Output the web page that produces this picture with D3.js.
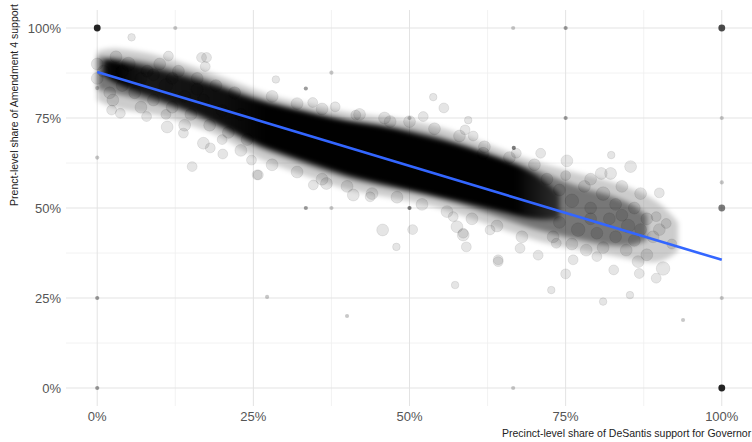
<!DOCTYPE html>
<html>
<head>
<meta charset="utf-8">
<script src="https://cdn.jsdelivr.net/npm/d3@7"></script>
<style>
  body { margin: 0; background: #fff; }
  svg { display: block; font-family: "Liberation Sans", Arial, sans-serif; }
  .grid-major { stroke: #e3e3e3; stroke-width: 1; }
  .grid-minor { stroke: #efefef; stroke-width: 0.8; }
  .tick-label { fill: #555; font-size: 13px; }
  .axis-title { fill: #222; font-size: 10.5px; }
</style>
</head>
<body>
<div id="chart"></div>
<script>
// Оси и подписи
const xTicks = [0, 0.25, 0.5, 0.75, 1];
const yTicks = [0, 0.25, 0.5, 0.75, 1];
const minorTicks = [0.125, 0.375, 0.625, 0.875];
const xTitle = "Precinct-level share of DeSantis support for Governor";
const yTitle = "Prenct-level share of Amendment 4 support";

// Плотное ядро облака точек (границы)
const bandX     = [0.00, 0.02, 0.05, 0.10, 0.15, 0.20, 0.25, 0.30, 0.35, 0.40, 0.45, 0.50, 0.55, 0.60, 0.65, 0.70, 0.75, 0.80, 0.85, 0.90, 0.93];
const outerLo   = [0.80, 0.78, 0.77, 0.76, 0.73, 0.70, 0.64, 0.61, 0.58, 0.55, 0.535, 0.52, 0.50, 0.47, 0.44, 0.41, 0.39, 0.375, 0.36, 0.34, 0.38];
const outerHi   = [0.935, 0.945, 0.94, 0.925, 0.895, 0.865, 0.83, 0.80, 0.785, 0.765, 0.755, 0.745, 0.725, 0.695, 0.66, 0.63, 0.605, 0.585, 0.56, 0.52, 0.46];
const midX      = [0.00, 0.05, 0.10, 0.15, 0.20, 0.25, 0.30, 0.35, 0.40, 0.45, 0.50, 0.55, 0.60, 0.65, 0.70, 0.75, 0.80, 0.85, 0.88];
const midLo     = [0.83, 0.81, 0.79, 0.76, 0.72, 0.67, 0.64, 0.61, 0.58, 0.56, 0.545, 0.525, 0.50, 0.47, 0.44, 0.42, 0.40, 0.39, 0.41];
const midHi     = [0.92, 0.915, 0.90, 0.875, 0.845, 0.81, 0.785, 0.765, 0.745, 0.735, 0.72, 0.70, 0.67, 0.64, 0.61, 0.57, 0.545, 0.52, 0.48];
const coreX     = [0.01, 0.02, 0.05, 0.10, 0.15, 0.20, 0.25, 0.30, 0.35, 0.40, 0.45, 0.50, 0.55, 0.60, 0.65, 0.70, 0.74];
const coreLo    = [0.87, 0.855, 0.83, 0.80, 0.77, 0.73, 0.68, 0.65, 0.62, 0.59, 0.57, 0.55, 0.53, 0.51, 0.49, 0.465, 0.47];
const coreHi    = [0.91, 0.915, 0.90, 0.885, 0.86, 0.835, 0.80, 0.78, 0.76, 0.74, 0.73, 0.71, 0.69, 0.665, 0.635, 0.60, 0.54];

// Отдельные участки: [доля DeSantis, доля Amendment 4, размер, сколько совпадает]
const stacked = [
    [0, 1, 2, 8], [1, 1, 2, 5], [1, 0, 2, 8], [0, 0, 1, 2], [0, 0.25, 1, 2],
    [1, 0.5, 2, 3], [1, 0.75, 1, 1], [1, 0.571, 1, 1], [1, 0.25, 1, 1],
    [0.75, 1, 1, 2], [0.75, 0.75, 1, 2], [0.666, 1, 1, 1], [0.666, 0, 1, 1],
    [0.125, 1, 1, 1], [0, 0.833, 1, 1], [0, 0.64, 1, 1], [0.334, 0.5, 1, 2],
    [0.375, 0.5, 1, 1], [0.5, 0.5, 1, 3], [0.334, 0.832, 1, 2], [0.375, 0.876, 1, 1],
    [0.667, 0.667, 1, 3], [0.5, 0.75, 1, 1], [0.272, 0.253, 1, 1], [0.4, 0.2, 1, 1],
    [0.938, 0.189, 1, 1]
];

const precincts = [
    [0.055, 0.974, 2], [0.114, 0.922, 3], [0.167, 0.918, 3], [0.175, 0.918, 3], [0.173, 0.893, 3],
    [0.025, 0.8, 4], [0.023, 0.772, 3], [0.037, 0.763, 3], [0.079, 0.754, 3], [0.112, 0.725, 4],
    [0.138, 0.708, 3], [0.152, 0.615, 3], [0.17, 0.68, 4], [0.181, 0.667, 3], [0.201, 0.65, 3],
    [0.247, 0.633, 3], [0.258, 0.592, 3], [0.286, 0.857, 2], [0.345, 0.793, 3], [0.381, 0.781, 3],
    [0.414, 0.758, 3], [0.538, 0.808, 2], [0.555, 0.778, 3], [0.469, 0.74, 4], [0.522, 0.754, 3],
    [0.589, 0.717, 3], [0.457, 0.439, 4], [0.505, 0.44, 3], [0.479, 0.392, 2], [0.256, 0.592, 3],
    [0.346, 0.564, 3], [0.367, 0.568, 4], [0.41, 0.536, 4], [0.437, 0.531, 3], [0.576, 0.448, 4],
    [0.586, 0.43, 3], [0.57, 0.476, 3], [0.573, 0.286, 2], [0.642, 0.356, 3], [0.71, 0.652, 3],
    [0.752, 0.631, 4], [0.823, 0.647, 2], [0.807, 0.596, 4], [0.822, 0.596, 4], [0.854, 0.615, 4],
    [0.9, 0.542, 3], [0.911, 0.457, 3], [0.895, 0.476, 3], [0.906, 0.332, 5], [0.895, 0.305, 3],
    [0.868, 0.318, 3], [0.866, 0.351, 4], [0.827, 0.328, 3], [0.853, 0.258, 2], [0.81, 0.24, 2],
    [0.75, 0.317, 3], [0.727, 0.272, 2], [0.706, 0.369, 3], [0.677, 0.388, 3], [0.642, 0.351, 3],
    [0.591, 0.392, 3], [0.586, 0.425, 4], [0.629, 0.439, 3], [0.735, 0.402, 3], [0.762, 0.356, 3],
    [0.783, 0.383, 4], [0.8, 0.365, 3], [0.847, 0.383, 4], [0.594, 0.744, 2], [0.602, 0.7, 3],
    [0.618, 0.652, 4], [0.671, 0.652, 3],
    [0.72, 0.58, 4], [0.74, 0.55, 4], [0.76, 0.52, 5], [0.78, 0.56, 4], [0.79, 0.5, 4],
    [0.81, 0.54, 5], [0.82, 0.47, 4], [0.83, 0.51, 4], [0.84, 0.56, 4], [0.85, 0.45, 5],
    [0.86, 0.5, 4], [0.87, 0.54, 4], [0.88, 0.47, 4], [0.89, 0.42, 4], [0.86, 0.41, 4],
    [0.83, 0.42, 4], [0.8, 0.43, 4], [0.77, 0.44, 5], [0.74, 0.46, 4], [0.73, 0.42, 4],
    [0.76, 0.4, 4], [0.79, 0.47, 4], [0.81, 0.39, 4], [0.84, 0.48, 4], [0.75, 0.59, 3],
    [0.79, 0.58, 4], [0.87, 0.44, 4], [0.9, 0.44, 4], [0.92, 0.4, 3], [0.88, 0.37, 4],
    [0.01, 0.88, 4], [0.03, 0.92, 4], [0.05, 0.9, 5], [0.04, 0.84, 4], [0.06, 0.82, 4],
    [0.08, 0.88, 4], [0.09, 0.8, 4], [0.1, 0.9, 4], [0.12, 0.78, 4], [0.13, 0.88, 4],
    [0.15, 0.76, 4], [0.16, 0.86, 4], [0.18, 0.73, 4], [0.19, 0.84, 4], [0.21, 0.71, 4],
    [0.22, 0.82, 4], [0.24, 0.69, 4], [0.07, 0.78, 4], [0.11, 0.76, 3], [0.14, 0.73, 4],
    [0.2, 0.69, 3], [0.23, 0.66, 4], [0.0, 0.9, 4], [0.0, 0.86, 4], [0.02, 0.82, 4],
    [0.28, 0.81, 4], [0.32, 0.79, 4], [0.36, 0.775, 4], [0.42, 0.76, 4], [0.46, 0.75, 4],
    [0.5, 0.74, 4], [0.54, 0.72, 4], [0.58, 0.7, 4], [0.62, 0.67, 4], [0.66, 0.64, 4],
    [0.7, 0.62, 4], [0.28, 0.62, 4], [0.32, 0.6, 4], [0.36, 0.58, 4], [0.4, 0.56, 4],
    [0.44, 0.54, 4], [0.48, 0.53, 4], [0.52, 0.51, 4], [0.56, 0.49, 4], [0.6, 0.47, 4],
    [0.64, 0.45, 4], [0.68, 0.42, 4],
    [0.04, 0.88, 4], [0.07, 0.86, 4], [0.11, 0.84, 5], [0.14, 0.81, 4], [0.17, 0.8, 4],
    [0.2, 0.77, 4], [0.23, 0.76, 4], [0.09, 0.87, 4], [0.16, 0.83, 4], [0.12, 0.86, 4]
];

// Линия регрессии (концы)
const fitX = [0, 1];
const fitY = [0.878, 0.356];

function initChart() {
    const width = 752, height = 442;

    const svg = d3.select("#chart").append("svg")
        .attr("width", width)
        .attr("height", height);

    const x = d3.scaleLinear().domain([-0.05, 1.05]).range([66, 753]);
    const y = d3.scaleLinear().domain([-0.05, 1.05]).range([406, 10]);
    const r = d3.scaleSqrt().domain([1, 5]).range([2.3, 6.8]);
    const pct = d3.format(".0%");

    const defs = svg.append("defs");
    defs.append("filter").attr("id", "soft")
        .attr("x", "-10%").attr("y", "-30%").attr("width", "120%").attr("height", "160%")
        .append("feGaussianBlur").attr("stdDeviation", 2.8);

    const grad = defs.append("linearGradient").attr("id", "coreFill")
        .attr("gradientUnits", "userSpaceOnUse")
        .attr("x1", x(0)).attr("x2", x(1)).attr("y1", 0).attr("y2", 0);
    [[0, 0.8], [0.03, 0.98], [0.08, 0.8], [0.2, 0.88], [0.27, 0.99], [0.67, 0.99], [0.74, 0.6]]
        .forEach(s => grad.append("stop").attr("offset", s[0])
            .attr("stop-color", "#000").attr("stop-opacity", s[1]));

    // Сетка
    const grid = svg.append("g");
    grid.selectAll(".vmin").data(minorTicks).enter().append("line")
        .attr("class", "grid-minor")
        .attr("x1", d => x(d)).attr("x2", d => x(d)).attr("y1", 10).attr("y2", 406);
    grid.selectAll(".hmin").data(minorTicks).enter().append("line")
        .attr("class", "grid-minor")
        .attr("x1", 66).attr("x2", width).attr("y1", d => y(d)).attr("y2", d => y(d));
    grid.selectAll(".vmaj").data(xTicks).enter().append("line")
        .attr("class", "grid-major")
        .attr("x1", d => x(d)).attr("x2", d => x(d)).attr("y1", 10).attr("y2", 406);
    grid.selectAll(".hmaj").data(yTicks).enter().append("line")
        .attr("class", "grid-major")
        .attr("x1", 66).attr("x2", width).attr("y1", d => y(d)).attr("y2", d => y(d));

    // Облако
    const cloud = svg.append("g").attr("filter", "url(#soft)");
    const band = (xs, lo, hi) => d3.area()
        .x((d, i) => x(xs[i]))
        .y0((d, i) => y(lo[i]))
        .y1((d, i) => y(hi[i]))
        .curve(d3.curveBasis)(xs);

    cloud.append("path").attr("d", band(bandX, outerLo, outerHi))
        .attr("fill", "#000").attr("fill-opacity", 0.2);
    cloud.append("path").attr("d", band(midX, midLo, midHi))
        .attr("fill", "#000").attr("fill-opacity", 0.42);
    cloud.append("path").attr("d", band(coreX, coreLo, coreHi))
        .attr("fill", "url(#coreFill)");

    const dots = svg.append("g");
    dots.selectAll(".p").data(precincts).enter().append("circle")
        .attr("cx", d => x(d[0]))
        .attr("cy", d => y(d[1]))
        .attr("r", d => r(d[2]))
        .attr("fill", "#000").attr("fill-opacity", 0.1)
        .attr("stroke", "#000").attr("stroke-opacity", 0.1).attr("stroke-width", 0.8);

    dots.selectAll(".s").data(stacked).enter().append("circle")
        .attr("cx", d => x(d[0]))
        .attr("cy", d => y(d[1]))
        .attr("r", d => r(d[2]) * 0.9)
        .attr("fill", "#000")
        .attr("fill-opacity", d => 1 - Math.pow(0.86, d[3] * 1.6));

    // Регрессия
    svg.append("path")
        .attr("d", d3.line().x((d, i) => x(fitX[i])).y((d, i) => y(fitY[i]))(fitX))
        .attr("fill", "none")
        .attr("stroke", "#3366ff")
        .attr("stroke-width", 2.6);

    // Подписи осей
    svg.selectAll(".yl").data(yTicks).enter().append("text")
        .attr("class", "tick-label")
        .attr("x", 61).attr("y", d => y(d)).attr("dy", "0.36em")
        .attr("text-anchor", "end")
        .text(pct);
    svg.selectAll(".xl").data(xTicks).enter().append("text")
        .attr("class", "tick-label")
        .attr("x", d => x(d)).attr("y", 421)
        .attr("text-anchor", "middle")
        .text(pct);

    svg.append("text").attr("class", "axis-title")
        .attr("x", 502).attr("y", 437)
        .attr("text-anchor", "start")
        .text(xTitle);
    svg.append("text").attr("class", "axis-title")
        .attr("transform", "translate(18,4) rotate(-90)")
        .attr("text-anchor", "end")
        .text(yTitle);
}

document.addEventListener('DOMContentLoaded', initChart);
</script>
</body>
</html>
